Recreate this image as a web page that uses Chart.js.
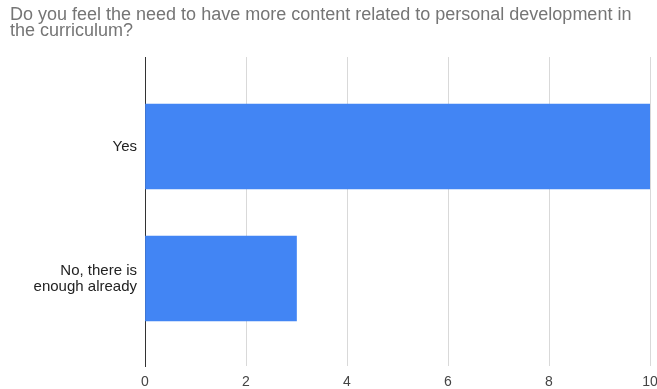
<!DOCTYPE html>
<html>
<head>
<meta charset="utf-8">
<script src="https://cdn.jsdelivr.net/npm/chart.js@4/dist/chart.umd.min.js"></script>
<style>
  html, body { margin: 0; padding: 0; background: #fff; }
  #wrap { width: 657px; height: 389px; }
</style>
</head>
<body>
<div id="wrap"><canvas id="grafica" width="657" height="389"></canvas></div>
<script>
var titulo = ['Do you feel the need to have more content related to personal development in', 'the curriculum?'];
var categorias = ['Yes', ['No, there is', 'enough already']];
var respuestas = [10, 3];
var ticksX = [0, 2, 4, 6, 8, 10];

var fuente = "'Liberation Sans', Arial, sans-serif";

// horizontal bars on a linear index axis so the bars sit where the sheet put them
var puntos = respuestas.map(function(v, i) { return { x: v, y: i }; });

var ctx = document.getElementById('grafica');
var grafica = new Chart(ctx, {
  type: 'bar',
  data: {
    datasets: [{
      data: puntos,
      backgroundColor: '#4285f4',
      borderWidth: 0,
      barThickness: 85
    }]
  },
  options: {
    indexAxis: 'y',
    responsive: false,
    animation: false,
    layout: { padding: { left: 10, top: 0, right: 0, bottom: 0 } },
    plugins: {
      legend: { display: false },
      tooltip: { enabled: false },
      title: {
        display: true,
        text: titulo,
        align: 'start',
        color: '#757575',
        font: { family: fuente, size: 18, weight: 'normal', lineHeight: 0.89 },
        padding: { top: 7, bottom: 18 }
      }
    },
    scales: {
      x: {
        type: 'linear',
        min: ticksX[0],
        max: ticksX[ticksX.length - 1],
        afterBuildTicks: function(s) { s.ticks = ticksX.map(function(v) { return { value: v }; }); },
        afterFit: function(s) {
          s.height = 23;
          s.paddingRight = 7;
        },
        grid: { color: '#d9d9d9', lineWidth: 1, drawTicks: false },
        border: { display: false },
        ticks: { color: '#444', padding: 8, font: { family: fuente, size: 14 } }
      },
      y: {
        type: 'linear',
        offset: false,
        reverse: true,
        min: -0.678,
        max: 1.663,
        afterBuildTicks: function(s) { s.ticks = categorias.map(function(c, i) { return { value: i }; }); },
        afterFit: function(s) {
          s.width = 135;
          s.paddingTop = 0;
          s.paddingBottom = 0;
        },
        grid: { display: false, drawTicks: false, offset: false },
        border: { display: true, color: '#333', width: 1 },
        ticks: {
          color: '#222',
          padding: 8,
          font: { family: fuente, size: 15, lineHeight: 1.07 },
          callback: function(v) { return categorias[v]; }
        }
      }
    }
  }
});
</script>
</body>
</html>
